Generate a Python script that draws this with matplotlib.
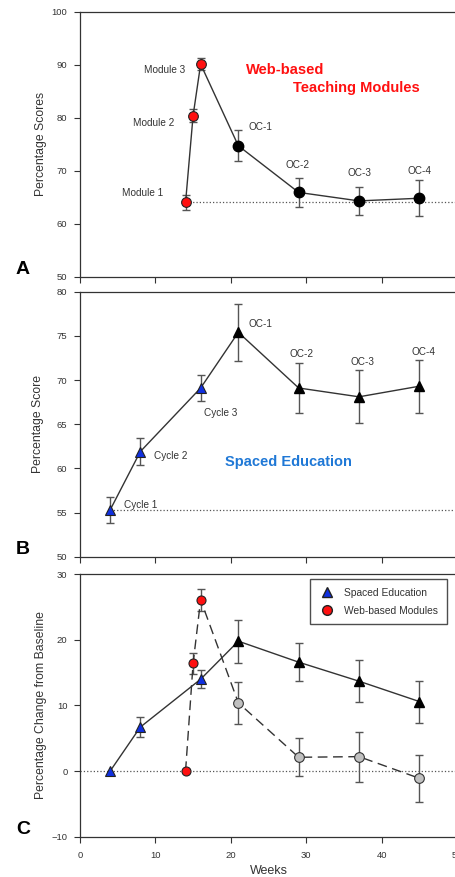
import numpy as np
import matplotlib.pyplot as plt
from matplotlib.lines import Line2D

plt.rcParams['font.family'] = ['Liberation Sans', 'DejaVu Sans']

# Panel A: web-based teaching modules
weeks_web = [14, 15, 16, 21, 29, 37, 45]
score_web = [64.0, 80.4, 90.1, 74.7, 65.9, 64.3, 64.8]
err_web = [1.4, 1.3, 1.1, 2.9, 2.8, 2.7, 3.4]
labels_web = ['Module 1', 'Module 2', 'Module 3', 'OC-1', 'OC-2', 'OC-3', 'OC-4']

# Panel B: spaced education
weeks_sp = [4, 8, 16, 21, 29, 37, 45]
score_sp = [55.3, 61.9, 69.1, 75.4, 69.1, 68.1, 69.3]
err_sp = [1.5, 1.5, 1.5, 3.2, 2.8, 3.0, 3.0]
labels_sp = ['Cycle 1', 'Cycle 2', 'Cycle 3', 'OC-1', 'OC-2', 'OC-3', 'OC-4']

# Panel C: change from baseline
chg_sp = [0.0, 6.7, 14.0, 19.8, 16.6, 13.7, 10.6]
chg_sp_err = [0.0, 1.5, 1.4, 3.3, 2.9, 3.2, 3.2]
chg_web = [0.0, 16.4, 26.1, 10.4, 2.1, 2.2, -1.1]
chg_web_err = [0.0, 1.6, 1.7, 3.2, 2.9, 3.8, 3.6]

LINE = '#333333'
ERR = '#555555'
BLUE = '#1f78d6'

fig = plt.figure(figsize=(4.56, 8.77), dpi=100)
L, W = 80 / 456, 377 / 456
axA = fig.add_axes([L, 0.6845, W, 0.3022])
axB = fig.add_axes([L, 0.3652, W, 0.3022])
axC = fig.add_axes([L, 0.0460, W, 0.2992])


def style(ax, ylabel, xlabels, ylab_x):
    ax.set_xlim(0, 50)
    ax.set_xticks([0, 10, 20, 30, 40, 50])
    ax.tick_params(direction='out', length=4, width=0.8, colors='#333333',
                   labelsize=6.8, top=False, right=False)
    ax.tick_params(axis='y', pad=5)
    ax.tick_params(axis='x', pad=6)
    if not xlabels:
        ax.set_xticklabels([])
    for s in ax.spines.values():
        s.set_linewidth(0.9)
        s.set_color('#333333')
    ax.set_ylabel(ylabel, fontsize=8.8, color='#333333')
    ax.yaxis.set_label_coords(ylab_x, 0.5)


def err(ax, x, y, e):
    ax.errorbar(x, y, yerr=e, fmt='none', ecolor=ERR, elinewidth=1.0,
                capsize=3, capthick=1.0, zorder=2)


# ---- A ----
axA.set_ylim(50, 100)
axA.set_yticks(range(50, 101, 10))
axA.plot([14, 50], [score_web[0]] * 2, ls=':', color='#555555', lw=0.9, zorder=1)
err(axA, weeks_web, score_web, err_web)
axA.plot(weeks_web, score_web, color=LINE, lw=1.0, zorder=3)
axA.plot(weeks_web[:3], score_web[:3], 'o', ms=7, mfc='#ff1010', mec='#222222', mew=0.8, zorder=4)
axA.plot(weeks_web[3:], score_web[3:], 'o', ms=7.5, mfc='black', mec='black', zorder=4)
ta = dict(fontsize=7.2, color='#333333')
axA.text(14.0, 89.0, labels_web[2], ha='right', va='center', **ta)
axA.text(12.5, 79.0, labels_web[1], ha='right', va='center', **ta)
axA.text(11.0, 65.8, labels_web[0], ha='right', va='center', **ta)
axA.text(22.3, 78.3, labels_web[3], ha='left', va='center', **ta)
axA.text(28.9, 71.1, labels_web[4], ha='center', va='center', **ta)
axA.text(37.1, 69.5, labels_web[5], ha='center', va='center', **ta)
axA.text(45.0, 70.0, labels_web[6], ha='center', va='center', **ta)
axA.text(22.0, 89.0, 'Web-based', ha='left', va='center', fontsize=10.5,
         fontweight='bold', color='#ff1010')
axA.text(28.3, 85.6, 'Teaching Modules', ha='left', va='center', fontsize=10.5,
         fontweight='bold', color='#ff1010')
style(axA, 'Percentage Scores', False, -0.0875)

# ---- B ----
axB.set_ylim(50, 80)
axB.set_yticks(range(50, 81, 5))
axB.plot([4, 50], [score_sp[0]] * 2, ls=':', color='#555555', lw=0.9, zorder=1)
err(axB, weeks_sp, score_sp, err_sp)
axB.plot(weeks_sp, score_sp, color=LINE, lw=1.0, zorder=3)
axB.plot(weeks_sp[:3], score_sp[:3], '^', ms=7, mfc='#1030e0', mec='#222222', mew=0.8, zorder=4)
axB.plot(weeks_sp[3:], score_sp[3:], '^', ms=7.5, mfc='black', mec='black', zorder=4)
axB.text(5.85, 55.9, labels_sp[0], ha='left', va='center', **ta)
axB.text(9.8, 61.4, labels_sp[1], ha='left', va='center', **ta)
axB.text(16.4, 66.3, labels_sp[2], ha='left', va='center', **ta)
axB.text(22.3, 76.3, labels_sp[3], ha='left', va='center', **ta)
axB.text(29.4, 72.9, labels_sp[4], ha='center', va='center', **ta)
axB.text(37.5, 72.0, labels_sp[5], ha='center', va='center', **ta)
axB.text(45.5, 73.2, labels_sp[6], ha='center', va='center', **ta)
axB.text(19.2, 60.75, 'Spaced Education', ha='left', va='center', fontsize=10.5,
         fontweight='bold', color=BLUE)
style(axB, 'Percentage Score', False, -0.0955)

# ---- C ----
axC.set_ylim(-10, 30)
axC.set_yticks(range(-10, 31, 10))
axC.axhline(0, ls=':', color='#555555', lw=0.9, zorder=1)
err(axC, weeks_sp[1:], chg_sp[1:], chg_sp_err[1:])
err(axC, weeks_web[1:], chg_web[1:], chg_web_err[1:])
axC.plot(weeks_sp, chg_sp, color=LINE, lw=1.0, zorder=3)
axC.plot(weeks_web, chg_web, color=LINE, lw=1.0, ls=(0, (7, 4)), zorder=3)
axC.plot(weeks_sp[:3], chg_sp[:3], '^', ms=6.5, mfc='#1030e0', mec='#222222', mew=0.8, zorder=4)
axC.plot(weeks_sp[3:], chg_sp[3:], '^', ms=7, mfc='black', mec='black', zorder=4)
axC.plot(weeks_web[:3], chg_web[:3], 'o', ms=6.5, mfc='#ff1010', mec='#222222', mew=0.8, zorder=4)
axC.plot(weeks_web[3:], chg_web[3:], 'o', ms=7, mfc='#c0c0c0', mec='#333333', mew=0.8, zorder=4)
handles = [Line2D([], [], ls='none', marker='^', ms=7, mfc='#1030e0', mec='#222222'),
           Line2D([], [], ls='none', marker='o', ms=7, mfc='#ff1010', mec='#222222')]
leg = axC.legend(handles, ['Spaced Education', 'Web-based Modules'], loc='upper right',
                 fontsize=7.4, frameon=True, fancybox=False, borderpad=0.85,
                 handletextpad=0.9, labelspacing=0.75, borderaxespad=0,
                 handlelength=1.6, bbox_to_anchor=(0.973, 0.981))
leg.get_frame().set_edgecolor('#222222')
leg.get_frame().set_linewidth(1.0)
for t in leg.get_texts():
    t.set_color('#333333')
style(axC, 'Percentage Change from Baseline', True, -0.0875)
axC.set_xlabel('Weeks', fontsize=9, color='#333333', labelpad=4)

for ax, letter in ((axA, 'A'), (axB, 'B'), (axC, 'C')):
    ax.text(-0.17, 0.026, letter, transform=ax.transAxes, fontsize=14,
            fontweight='bold', ha='left', va='center', color='black')

fig.savefig('out.png', dpi=100)
